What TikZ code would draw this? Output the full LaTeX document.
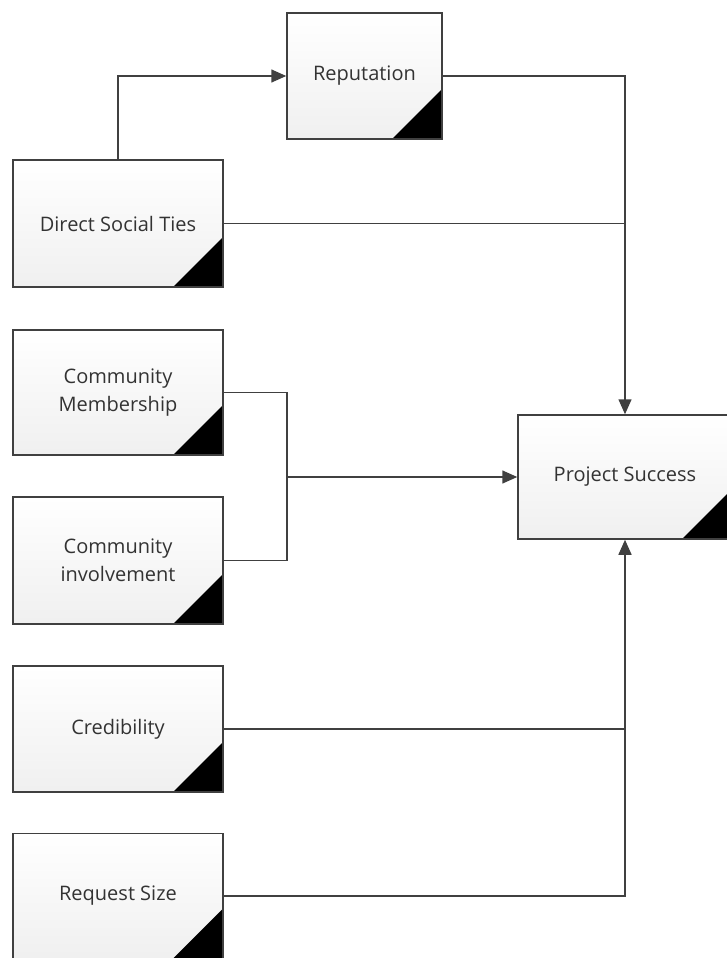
\documentclass[tikz,border=0pt]{standalone}
\usepackage{fontspec}
\setmainfont{Open Sans}
\usetikzlibrary{arrows.meta}
\definecolor{linec}{HTML}{404040}
\definecolor{textc}{HTML}{333333}
\tikzset{
  box/.style={draw=linec, line width=1.5pt, rectangle, top color=white, bottom color=black!6,
    text=textc, font=\fontsize{20}{28}\selectfont, align=center, inner sep=0pt,
    path picture={\fill[black] (path picture bounding box.south east) -- ++(0pt,50pt) -- ++(-50pt,-50pt) -- cycle;}},
  conn/.style={draw=linec, line width=1.5pt},
  arr/.style={conn, -{Triangle[length=15pt,width=13pt]}}
}
\begin{document}
\begin{tikzpicture}[x=1pt,y=-1pt]
\useasboundingbox (0,0) rectangle (726,958);
\node[box, minimum width=155, minimum height=126] (rep) at (364.5,76) {Reputation};
\node[box, minimum width=210, minimum height=127] (dst) at (118,223.5) {Direct Social Ties};
\node[box, minimum width=210, minimum height=125] (cm) at (118,392.5) {Community\\Membership};
\node[box, minimum width=210, minimum height=127] (ci) at (118,560.5) {Community\\involvement};
\node[box, minimum width=210, minimum height=126] (cred) at (118,729) {Credibility};
\node[box, minimum width=210, minimum height=125] (rs) at (118,896) {Request Size};
\node[box, minimum width=214, minimum height=124] (ps) at (625,477) {Project Success};
\coordinate (jn) at (287,477);
\draw[arr] (dst.north) |- (rep.west);
\draw[arr] (rep.east) -| (ps.north);
\draw[conn] (dst.east) -- (dst.east -| ps.north);
\draw[conn] (cm.east) -| (jn |- ci.east) -- (ci.east);
\draw[arr] (jn) -- (ps.west);
\draw[arr] (cred.east) -| (ps.south);
\draw[conn] (rs.east) -| (cred.east -| ps.south);
\end{tikzpicture}
\end{document}
